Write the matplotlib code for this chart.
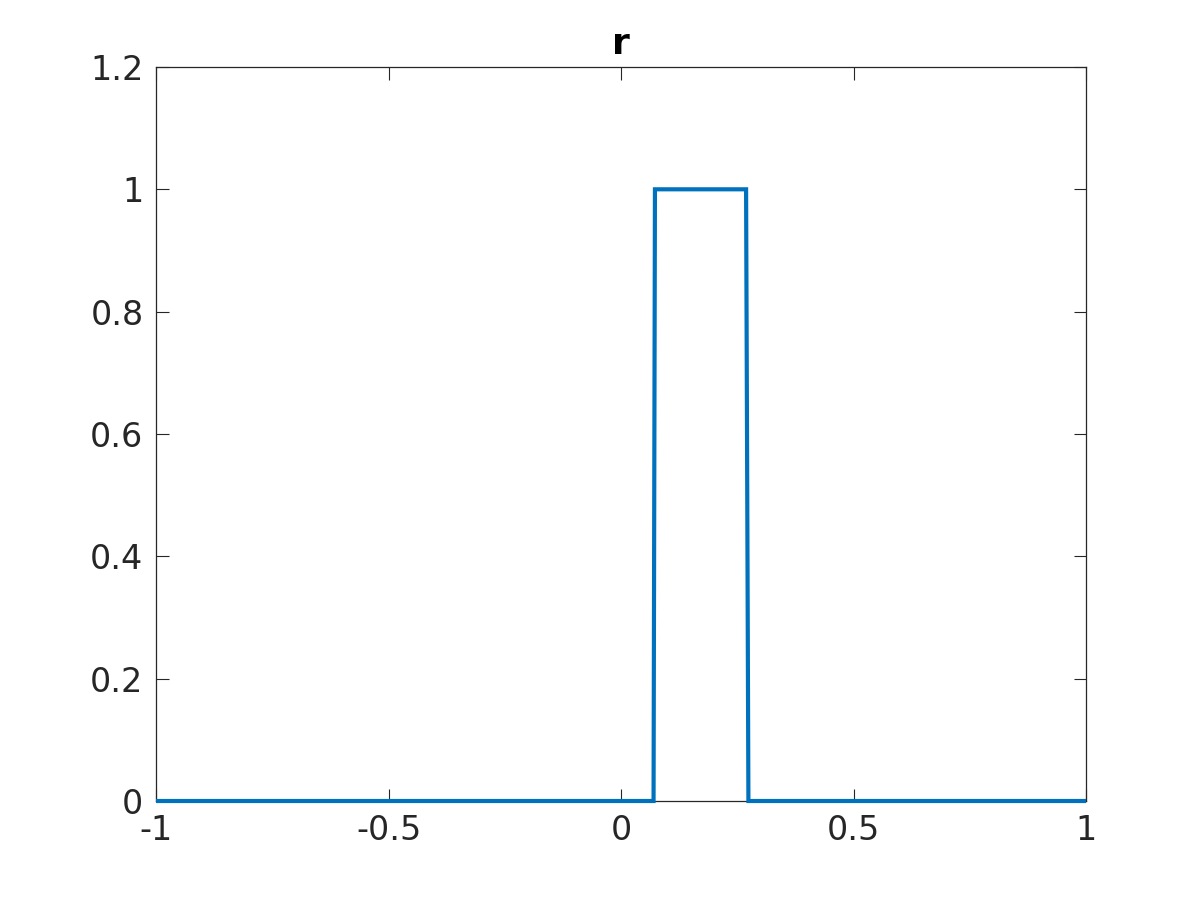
import matplotlib
matplotlib.use("Agg")
import matplotlib.pyplot as plt

x = [-1.0, 0.070, 0.073, 0.269, 0.274, 1.0]
y = [0, 0, 1, 1, 0, 0]
xticks = [-1, -0.5, 0, 0.5, 1]
xticklabels = ["-1", "-0.5", "0", "0.5", "1"]
yticks = [0, 0.2, 0.4, 0.6, 0.8, 1, 1.2]
yticklabels = ["0", "0.2", "0.4", "0.6", "0.8", "1", "1.2"]

plt.rcParams['font.family'] = ['DejaVu Sans']
fig = plt.figure(figsize=(12, 9), dpi=100)
ax = fig.add_axes([0.13, 0.11, 0.775, 0.8156])
ax.plot(x, y, color='#0072BD', linewidth=3.0, solid_joinstyle='miter',
        solid_capstyle='butt', clip_on=False, zorder=3)
ax.set_xlim(-1, 1)
ax.set_ylim(0, 1.2)
ax.set_xticks(xticks)
ax.set_xticklabels(xticklabels)
ax.set_yticks(yticks)
ax.set_yticklabels(yticklabels)
ax.tick_params(direction='in', length=9, width=0.8, colors='#262626', labelsize=24,
               top=True, right=True)
ax.tick_params(axis='x', pad=9)
ax.tick_params(axis='y', pad=9)
for s in ax.spines.values():
    s.set_color('#262626')
    s.set_linewidth(0.9)
    s.set_zorder(2)
ax.set_title('r', fontsize=26, fontweight='bold', pad=9)
fig.savefig('out.png', dpi=100)
